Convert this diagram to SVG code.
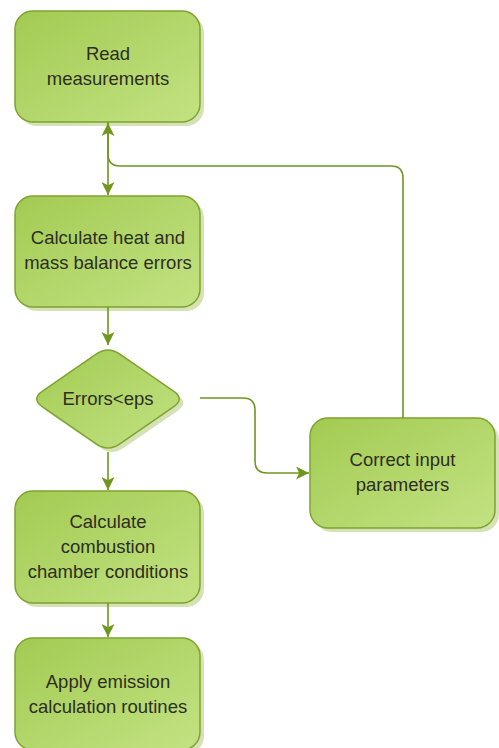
<svg xmlns="http://www.w3.org/2000/svg" width="499" height="748" viewBox="0 0 499 748">
<defs>
<linearGradient id="g" x1="0" y1="0" x2="1" y2="1">
<stop offset="0" stop-color="#a2cb52"/>
<stop offset="1" stop-color="#c3e283"/>
</linearGradient>
<marker id="ah" markerWidth="13" markerHeight="13" viewBox="0 0 12 12" refX="12" refY="6" orient="auto" markerUnits="userSpaceOnUse">
<path d="M0,0 L12,6 L0,12 L3,6 z" fill="#6f961e"/>
</marker>
</defs>
<style>
.sh{fill:#d5e2b6}
.nd{fill:url(#g);stroke:#7fa32f;stroke-width:1.5}
.t{font-family:"Liberation Sans",Arial,sans-serif;font-size:18.5px;fill:#2e2e22;text-anchor:middle}
.c{fill:none;stroke:#6f961e;stroke-width:1.6}
</style>
<g id="n1">
<rect class="sh" x="19" y="15" width="185" height="111" rx="18"/>
<rect class="nd" x="15" y="11" width="185" height="111" rx="18"/>
<text class="t" x="108" y="60">Read</text>
<text class="t" x="108" y="85">measurements</text>
</g>
<g id="n2">
<rect class="sh" x="19" y="200" width="185" height="111" rx="18"/>
<rect class="nd" x="15" y="196" width="185" height="111" rx="18"/>
<text class="t" x="108" y="244">Calculate heat and</text>
<text class="t" x="108" y="269">mass balance errors</text>
</g>
<g id="n3">
<path class="sh" transform="translate(4,4)" d="M96.5,353.9 Q108,346 119.5,353.9 L173.5,391.1 Q185,399 173.5,406.9 L119.5,444.1 Q108,452 96.5,444.1 L42.5,406.9 Q31,399 42.5,391.1 Z"/>
<path class="nd" d="M96.5,353.9 Q108,346 119.5,353.9 L173.5,391.1 Q185,399 173.5,406.9 L119.5,444.1 Q108,452 96.5,444.1 L42.5,406.9 Q31,399 42.5,391.1 Z"/>
<text class="t" x="108" y="405">Errors&lt;eps</text>
</g>
<g id="n4">
<rect class="sh" x="314" y="422" width="185" height="110" rx="18"/>
<rect class="nd" x="310" y="418" width="185" height="110" rx="18"/>
<text class="t" x="402.5" y="466">Correct input</text>
<text class="t" x="402.5" y="491">parameters</text>
</g>
<g id="n5">
<rect class="sh" x="19" y="495" width="185" height="112" rx="18"/>
<rect class="nd" x="15" y="491" width="185" height="112" rx="18"/>
<text class="t" x="108" y="528">Calculate</text>
<text class="t" x="108" y="553">combustion</text>
<text class="t" x="108" y="578">chamber conditions</text>
</g>
<g id="n6">
<rect class="sh" x="19" y="642" width="185" height="112" rx="18"/>
<rect class="nd" x="15" y="638" width="185" height="112" rx="18"/>
<text class="t" x="108" y="688">Apply emission</text>
<text class="t" x="108" y="713">calculation routines</text>
</g>
<g id="connectors">
<path class="c" d="M108,122 L108,195" marker-end="url(#ah)"/>
<path class="c" d="M403,418 L403,178 Q403,166 391,166 L120,166 Q108,166 108,154 L108,123" marker-end="url(#ah)"/>
<path class="c" d="M108,307 L108,345" marker-end="url(#ah)"/>
<path class="c" d="M108,452 L108,490" marker-end="url(#ah)"/>
<path class="c" d="M108,603 L108,637" marker-end="url(#ah)"/>
<path class="c" d="M200,398 L243,398 Q255,398 255,410 L255,461 Q255,473 267,473 L309,473" marker-end="url(#ah)"/>
</g>
</svg>
